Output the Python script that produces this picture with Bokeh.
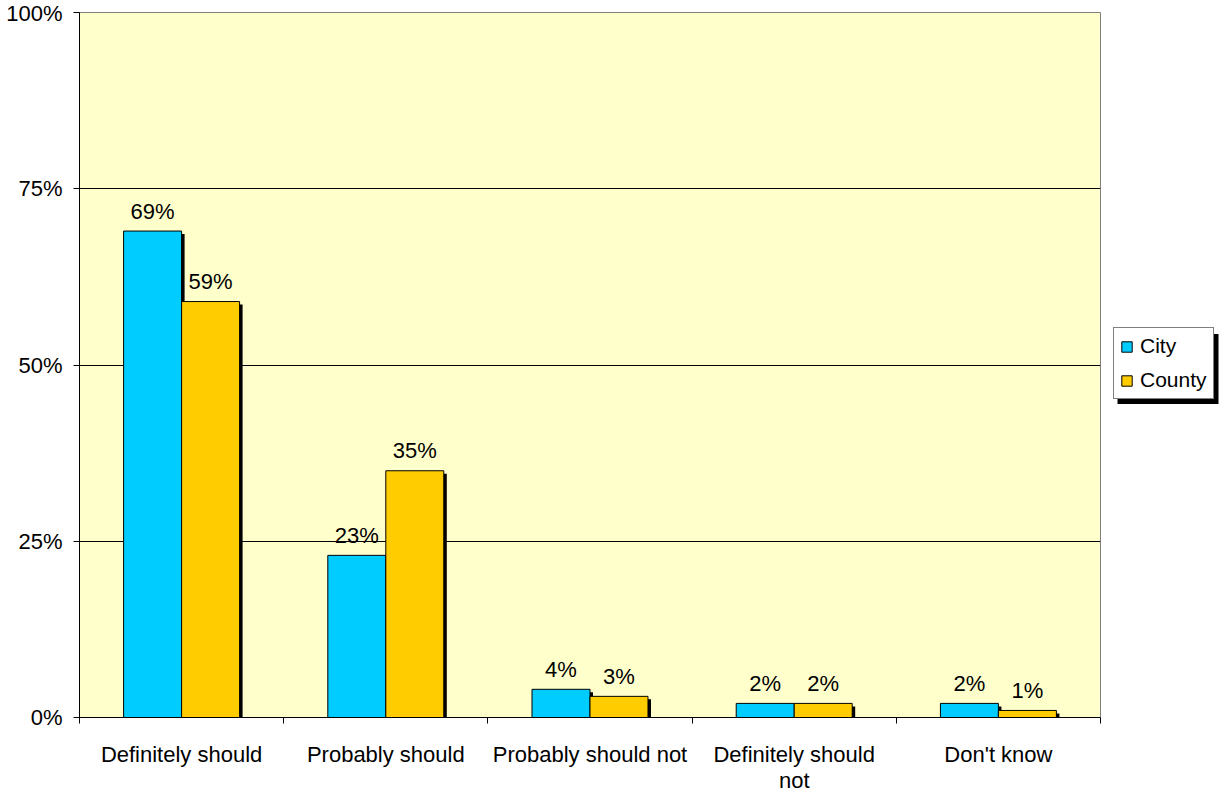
from bokeh.plotting import figure
from bokeh.layouts import row
from bokeh.models import (ColumnDataSource, FixedTicker, PrintfTickFormatter,
                          Legend, LegendItem)
from bokeh.transform import dodge
from bokeh.embed import file_html
from bokeh.resources import INLINE
from bokeh.core.properties import value

categories = ["Definitely should", "Probably should", "Probably should not",
              "Definitely should\nnot", "Don't know"]
city = [69, 23, 4, 2, 2]
county = [59, 35, 3, 2, 1]
y_ticks = [0, 25, 50, 75, 100]
series_names = ["City", "County"]
series_colors = ["#00CCFF", "#FFCC00"]

FONT = "Liberation Sans"
FS = "22px"

n = len(categories)
centers = [i + 0.5 for i in range(n)]
src = ColumnDataSource(dict(
    x=centers,
    city=city,
    county=county,
    city_lbl=[f"{v}%" for v in city],
    county_lbl=[f"{v}%" for v in county],
))

H = 795
p = figure(width=1101, height=H, output_backend="svg", toolbar_location=None,
           x_range=(0, n), y_range=(0, 100), title=None,
           min_border_left=79, min_border_right=1, min_border_top=12,
           min_border_bottom=77)
p.background_fill_color = "#FFFFCC"
p.border_fill_color = "white"
p.outline_line_color = "#808080"

bw = 0.284
off = 0.142
sx = 3 / 204   # 3 px shadow, x
sy = 3 / 7.06  # 3 px shadow, y

p.vbar(x=dodge("x", -off + sx, range=p.x_range),
       top=dodge("city", -sy, range=p.y_range), width=bw,
       bottom=0, source=src, fill_color="black", line_color=None)
p.vbar(x=dodge("x", off + sx, range=p.x_range),
       top=dodge("county", -sy, range=p.y_range), width=bw,
       bottom=0, source=src, fill_color="black", line_color=None)
p.vbar(x=dodge("x", -off, range=p.x_range), top="city", width=bw,
       source=src, fill_color=series_colors[0], line_color="black", line_width=1)
p.vbar(x=dodge("x", off, range=p.x_range), top="county", width=bw,
       source=src, fill_color=series_colors[1], line_color="black", line_width=1)

for col, lbl, o in (("city", "city_lbl", -off), ("county", "county_lbl", off)):
    p.text(x=dodge("x", o, range=p.x_range), y=col, text=lbl, source=src,
           text_align="center", text_baseline="alphabetic", y_offset=-20,
           text_font=value(FONT), text_font_size=FS, text_color="black")

# axes
p.xaxis.ticker = FixedTicker(ticks=centers, minor_ticks=list(range(n + 1)))
p.xaxis.major_label_overrides = {c: categories[i] for i, c in enumerate(centers)}
p.xaxis.major_tick_out = 0
p.xaxis.major_tick_in = 0
p.xaxis.minor_tick_out = 6
p.xaxis.minor_tick_in = 0
p.xaxis.minor_tick_line_color = "black"
p.xaxis.axis_line_color = "black"
p.xaxis.major_label_standoff = 18
p.xaxis.major_label_text_line_height = 1.05
p.xaxis.major_label_text_font = FONT
p.xaxis.major_label_text_font_size = FS
p.xaxis.major_label_text_color = "black"

p.yaxis.ticker = FixedTicker(ticks=y_ticks)
p.yaxis.formatter = PrintfTickFormatter(format="%d%%")
p.yaxis.major_tick_out = 6
p.yaxis.major_tick_in = 0
p.yaxis.minor_tick_out = 0
p.yaxis.minor_tick_in = 0
p.yaxis.axis_line_color = "black"
p.yaxis.major_tick_line_color = "black"
p.yaxis.major_label_standoff = 11
p.yaxis.major_label_text_font = FONT
p.yaxis.major_label_text_font_size = FS
p.yaxis.major_label_text_color = "black"

p.xgrid.visible = False
p.ygrid.ticker = FixedTicker(ticks=y_ticks[1:-1])
p.ygrid.grid_line_color = "black"
p.ygrid.grid_line_width = 1

# legend panel (separate figure; its frame is aligned with the main frame,
# so its y range is set up in pixels from the frame bottom)
LW = 118
FH = 706
lf = figure(width=LW, height=H, output_backend="svg", toolbar_location=None,
            x_range=(0, LW), y_range=(0, FH), x_axis_type=None, y_axis_type=None,
            title=None, min_border=0)
lf.outline_line_color = None
lf.grid.visible = False
lf.background_fill_color = "white"
lf.border_fill_color = "white"

# legend shadow (decoration)
lf.quad(left=[16], right=[117], top=[384], bottom=[314],
        fill_color="black", line_color=None)

items = []
for name, color, col in zip(series_names, series_colors, ["city", "county"]):
    r = lf.vbar(x="x", top=col, width=0.1, source=src, fill_color=color,
                line_color="black", visible=False)
    items.append(LegendItem(label=name, renderers=[r]))

legend = Legend(items=items, location=(12, 318))
legend.label_text_font = FONT
legend.label_text_font_size = "21px"
legend.label_text_color = "black"
legend.label_height = 24
legend.glyph_width = 13
legend.glyph_height = 13
legend.label_standoff = 7
legend.spacing = 10
legend.padding = 6
legend.margin = 0
legend.border_line_color = "black"
legend.border_line_width = 1
legend.background_fill_color = "white"
legend.background_fill_alpha = 1
legend.click_policy = "none"
lf.add_layout(legend, "center")

layout = row(p, lf, spacing=0)
open("out.html", "w").write(file_html(layout, INLINE))
